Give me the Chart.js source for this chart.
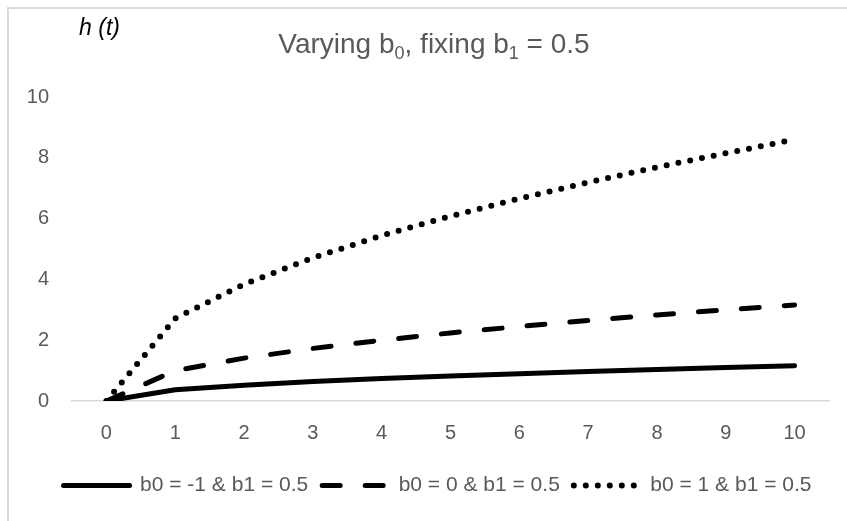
<!DOCTYPE html>
<html>
<head>
<meta charset="utf-8">
<script src="https://cdn.jsdelivr.net/npm/chart.js@4/dist/chart.umd.min.js"></script>
<style>
  html, body { margin: 0; padding: 0; background: #fff; overflow: hidden; }
  body { width: 847px; height: 521px; position: relative; }
  #frame { position: absolute; left: 7px; top: 7px; width: 900px; height: 600px;
           border: 2px solid #d9d9d9; box-sizing: border-box; }
  #wrap { position: absolute; left: 8px; top: 8px; width: 864px; height: 513px; }
</style>
</head>
<body>
<div id="frame"></div>
<div id="wrap"><canvas id="chart"></canvas></div>
<script>
// time points on the x axis
const timeLabels = ['0', '1', '2', '3', '4', '5', '6', '7', '8', '9', '10'];
// hazard values h(t) for each b0, with b1 fixed at 0.5
const hazardB0Neg1 = [0, 0.37, 0.52, 0.64, 0.74, 0.82, 0.90, 0.97, 1.04, 1.10, 1.16];
const hazardB0Zero = [0, 1.00, 1.41, 1.73, 2.00, 2.24, 2.45, 2.65, 2.83, 3.00, 3.16];
const hazardB0Pos1 = [0, 2.72, 3.84, 4.71, 5.44, 6.08, 6.66, 7.19, 7.69, 8.15, 8.60];
const seriesNames = ['b0 = -1 & b1 = 0.5', 'b0 = 0 & b1 = 0.5', 'b0 = 1 & b1 = 0.5'];
const yTickValues = [0, 2, 4, 6, 8, 10];

const FONT = '"Liberation Sans", Arial, sans-serif';
const GREY = '#595959';

// Title with subscripts and the italic y-axis caption
const headerPlugin = {
  id: 'header',
  afterDraw(chart) {
    const ctx = chart.ctx;
    ctx.save();
    ctx.textBaseline = 'alphabetic';
    ctx.fillStyle = GREY;
    const main = '28px ' + FONT, sub = '18px ' + FONT;
    const parts = [
      ['Varying b', main, 0], ['0', sub, 6], [', fixing b', main, 0],
      ['1', sub, 6], [' = 0.5', main, 0]
    ];
    let total = 0;
    parts.forEach(p => { ctx.font = p[1]; total += ctx.measureText(p[0]).width; });
    let x = 426 - total / 2;
    const base = 45;
    ctx.textAlign = 'left';
    parts.forEach(p => {
      ctx.font = p[1];
      ctx.fillText(p[0], x, base + p[2]);
      x += ctx.measureText(p[0]).width;
    });
    ctx.fillStyle = '#000';
    ctx.font = 'italic 23px ' + FONT;
    ctx.textAlign = 'right';
    ctx.fillText('h (t)', 112, 27);
    ctx.restore();
  }
};

// the legend row is centred under the whole chart box, not only the plot width
const legendShift = {
  id: 'legendShift',
  afterLayout(chart) {
    const lg = chart.legend;
    if (lg) { lg.left += 19; lg.right += 19; }
  }
};

const lineStyle = {
  borderColor: '#000',
  backgroundColor: '#000',
  borderWidth: 5,
  borderCapStyle: 'round',
  borderJoinStyle: 'round',
  pointRadius: 0,
  pointHoverRadius: 0,
  tension: 0,
  fill: false
};

new Chart(document.getElementById('chart'), {
  type: 'line',
  data: {
    labels: timeLabels,
    datasets: [
      Object.assign({}, lineStyle, { label: seriesNames[0], data: hazardB0Neg1, borderDash: [] }),
      Object.assign({}, lineStyle, { label: seriesNames[1], data: hazardB0Zero, borderDash: [18, 25] }),
      Object.assign({}, lineStyle, { label: seriesNames[2], data: hazardB0Pos1, borderDash: [0, 12], borderWidth: 6 })
    ]
  },
  options: {
    responsive: true,
    maintainAspectRatio: false,
    animation: false,
    events: [],
    layout: { padding: { left: 0, right: 43, top: 89, bottom: 15 } },
    plugins: {
      title: { display: false },
      tooltip: { enabled: false },
      legend: {
        display: true,
        position: 'bottom',
        labels: {
          usePointStyle: true,
          pointStyle: 'line',
          pointStyleWidth: 66,
          padding: 14,
          color: GREY,
          font: { family: FONT, size: 21 },
          // legend samples follow each dataset's dash pattern
          generateLabels(chart) {
            const items = Chart.defaults.plugins.legend.labels.generateLabels(chart);
            items.forEach((item, i) => {
              const ds = chart.data.datasets[i];
              item.lineDash = ds.borderDash;
              item.lineCap = 'round';
              item.lineWidth = ds.borderWidth;
              item.strokeStyle = '#000';
              item.fillStyle = '#000';
            });
            return items;
          }
        }
      }
    },
    scales: {
      x: {
        type: 'category',
        offset: true,
        grid: { display: false, drawTicks: false },
        border: { display: true, color: '#d9d9d9', width: 1.5 },
        ticks: { color: GREY, font: { family: FONT, size: 20 }, padding: 20, maxRotation: 0, autoSkip: false },
        afterFit(scale) { scale.height = 60; }
      },
      y: {
        min: 0,
        max: 10,
        afterBuildTicks(scale) { scale.ticks = yTickValues.map(v => ({ value: v })); },
        grid: { display: false, drawTicks: false },
        border: { display: false },
        ticks: { color: GREY, font: { family: FONT, size: 20 }, padding: 23 },
        afterFit(scale) { scale.width = 64; }
      }
    }
  },
  plugins: [headerPlugin, legendShift]
});
</script>
</body>
</html>
